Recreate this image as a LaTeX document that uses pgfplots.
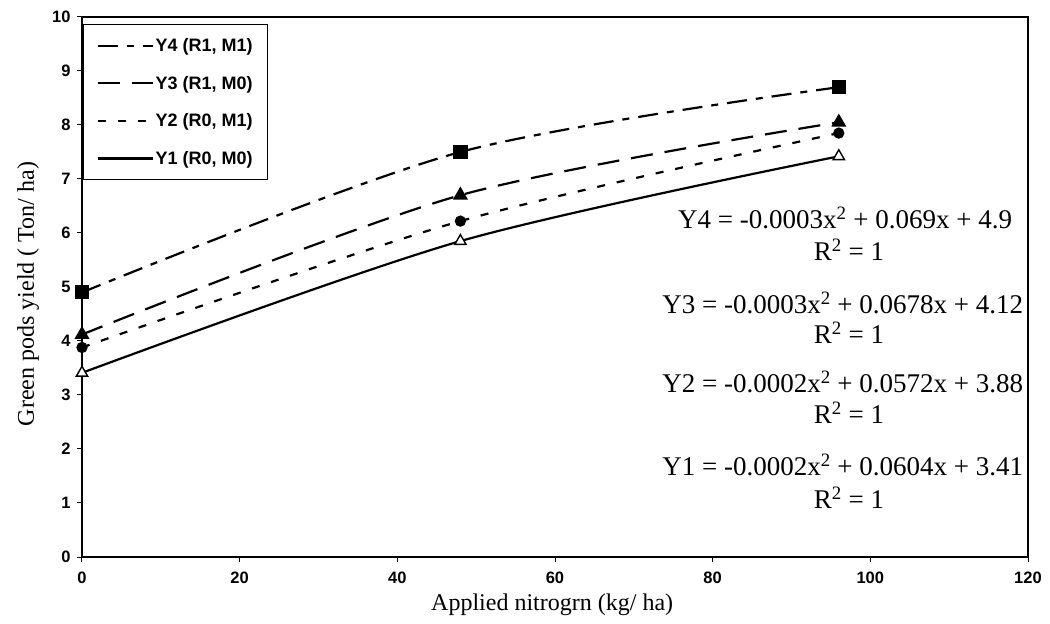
\documentclass[border=0pt]{standalone}
\usepackage{fontspec}
\setmainfont{Liberation Serif}
\setsansfont{Liberation Sans}
\usepackage{pgfplots}
\pgfplotsset{compat=1.18}

\begin{document}
\begin{tikzpicture}
\begin{axis}[
    name=ax,
    scale only axis,
    width=946pt, height=540pt,
    xmin=0, xmax=120, ymin=0, ymax=10,
    xtick={0,20,...,120}, ytick={0,1,...,10},
    xtick pos=bottom, ytick pos=left,
    tick align=outside, major tick length=5pt,
    axis line style={line width=1.6pt},
    tick style={line width=1pt, black},
    /pgf/number format/assume math mode=true,
    tick label style={font=\sffamily\bfseries\fontsize{16.5}{18}\selectfont},
    xticklabel style={yshift=-6pt},
    yticklabel style={xshift=-3pt},
    xlabel={Applied nitrogrn (kg/ ha)},
    ylabel={Green pods yield ( Ton/ ha)},
    label style={font=\fontsize{24}{26}\selectfont},
    xlabel style={at={(axis description cs:0.497,-0.089)}, anchor=center},
    ylabel style={at={(axis description cs:-0.057,0.487)}, anchor=center},
    legend style={at={(0.001,0.987)}, anchor=north west, draw=black,
        line width=1pt, font=\sffamily\bfseries\fontsize{18}{20}\selectfont,
        row sep=19pt, inner xsep=13pt, inner ysep=12pt},
    legend cell align=left,
    legend image code/.code={\draw[mark=none,#1] (0pt,0pt) -- (55pt,0pt);},
    every axis plot/.append style={black, line width=2.2pt},
]
    % Y4 (R1, M1)
    \addplot[smooth, dash pattern=on 20pt off 9pt on 7pt off 9pt,
        mark=square*, mark size=6pt, mark options={solid}]
        coordinates {(0,4.90) (48,7.50) (96,8.70)};
    % Y3 (R1, M0)
    \addplot[smooth, dash pattern=on 22pt off 12pt,
        mark=triangle*, mark size=6.5pt, mark options={solid}]
        coordinates {(0,4.12) (48,6.70) (96,8.05)};
    % Y2 (R0, M1)
    \addplot[smooth, dash pattern=on 8pt off 12pt,
        mark=*, mark size=4.5pt, mark options={solid}]
        coordinates {(0,3.88) (48,6.22) (96,7.85)};
    % Y1 (R0, M0)
    \addplot[smooth,
        mark=triangle*, mark size=6.5pt, mark options={solid, fill=white, line width=1.4pt}]
        coordinates {(0,3.41) (48,5.85) (96,7.42)};
    \legend{{Y4 (R1, M1)}, {Y3 (R1, M0)}, {Y2 (R0, M1)}, {Y1 (R0, M0)}}

    \begin{scope}[every node/.style={font=\fontsize{27}{30}\selectfont, inner sep=0pt}]
    \node at (axis cs:96.8,6.28) {Y4 = -0.0003x\textsuperscript{2} + 0.069x + 4.9};
    \node at (axis cs:97.3,5.69) {R\textsuperscript{2} = 1};
    \node at (axis cs:96.5,4.70) {Y3 = -0.0003x\textsuperscript{2} + 0.0678x + 4.12};
    \node at (axis cs:97.3,4.15) {R\textsuperscript{2} = 1};
    \node at (axis cs:96.5,3.24) {Y2 = -0.0002x\textsuperscript{2} + 0.0572x + 3.88};
    \node at (axis cs:97.3,2.67) {R\textsuperscript{2} = 1};
    \node at (axis cs:96.5,1.70) {Y1 = -0.0002x\textsuperscript{2} + 0.0604x + 3.41};
    \node at (axis cs:97.3,1.09) {R\textsuperscript{2} = 1};
    \end{scope}
\end{axis}
\pgfresetboundingbox
\path ([shift={(-82pt,-67pt)}]ax.south west) rectangle ([shift={(22pt,17pt)}]ax.north east);
\end{tikzpicture}
\end{document}
